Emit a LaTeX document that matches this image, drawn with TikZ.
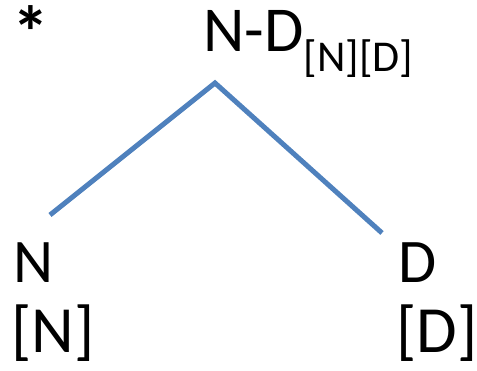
\documentclass[tikz,border=0pt]{standalone}
\usepackage{fontspec}
\setmainfont{Carlito}
\definecolor{branchblue}{RGB}{79,129,189}

\begin{document}
\begin{tikzpicture}[x=1pt,y=-1pt,
  label/.style={inner sep=0pt,anchor=base west,font=\fontsize{62}{70}\selectfont},
  feature/.style={inner sep=0pt,anchor=base west,font=\fontsize{66}{75}\selectfont},
  sublabel/.style={inner sep=0pt,anchor=base west,font=\fontsize{44}{50}\selectfont},
  branch/.style={draw=branchblue,line width=5pt}]
  \useasboundingbox (0,0) rectangle (477,371);
  \node[label,font=\fontsize{74}{80}\selectfont\bfseries] (star) at (12,59) {*};
  \node[label,font=\fontsize{64}{70}\selectfont] (mother) at (203,52) {N-D};
  \node[sublabel] (feat) at (mother.base east) [yshift=-20pt] {[N][D]};
  \node[label] (ncat) at (13,283) {N};
  \node[feature] (nfeat) at (11,353) {[N]};
  \node[label] (dcat) at (398,283) {D};
  \node[feature] (dfeat) at (396,353) {[D]};
  \coordinate (apex) at (215,83);
  \coordinate (nend) at (50,215);
  \coordinate (dend) at (382,233);
  \draw[branch] (nend) -- (apex) -- (dend);
\end{tikzpicture}
\end{document}
